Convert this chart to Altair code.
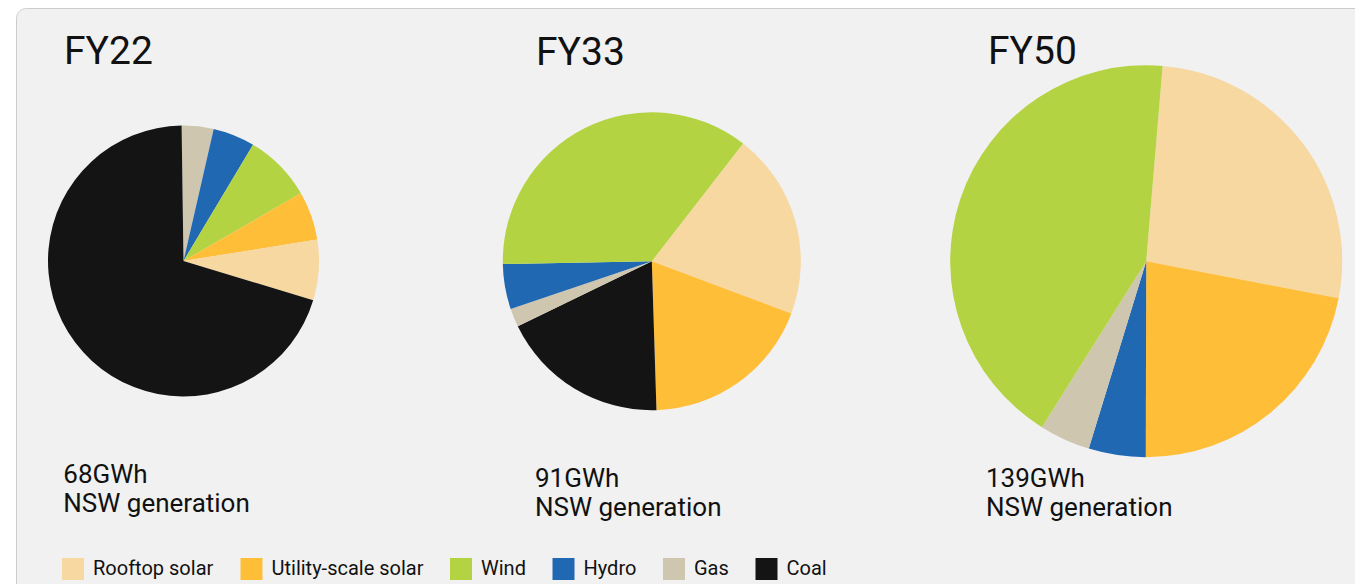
import math
import altair as alt
import pandas as pd

# ---- data ----
categories = ["Rooftop solar", "Utility-scale solar", "Wind", "Hydro", "Gas", "Coal"]
palette = ["#F7D8A0", "#FFBE38", "#B3D342", "#2068B2", "#CFC6AF", "#141414"]

years = ["FY22", "FY33", "FY50"]
totals = ["68GWh", "91GWh", "139GWh"]

# slices listed clockwise, share in % of generation
fy22_sources = ["Gas", "Hydro", "Wind", "Utility-scale solar", "Rooftop solar", "Coal"]
fy22_shares = [3.8, 5.0, 8.1, 5.8, 7.2, 70.1]

fy33_sources = ["Rooftop solar", "Utility-scale solar", "Coal", "Gas", "Hydro", "Wind"]
fy33_shares = [20.2, 18.8, 18.3, 2.0, 4.9, 35.8]

fy50_sources = ["Rooftop solar", "Utility-scale solar", "Hydro", "Gas", "Wind"]
fy50_shares = [26.7, 22.0, 4.7, 4.2, 42.4]

pies = [(fy22_sources, fy22_shares), (fy33_sources, fy33_shares), (fy50_sources, fy50_shares)]

# ---- layout (pixels, styles) ----
FONT = "Roboto"
pie_layout = [  # center x, center y, radius, start angle (deg)
    (175.5, 253.0, 135.5, -0.8),
    (643.8, 253.2, 149.0, 37.8),
    (1138.2, 253.2, 196.0, 4.8),
]
title_pos = [(56, 56), (528, 57), (980, 56.3)]
caption_pos = [(55.3, 475.3), (527, 479.3), (978, 479.3)]
caption_lh = 28.5

color_scale = alt.Scale(domain=categories, range=palette)
legend = alt.Legend(
    orient="none", legendX=54, legendY=550, direction="horizontal",
    title=None, symbolType="square", symbolSize=484, symbolStrokeWidth=0,
    labelFont=FONT, labelFontSize=20, labelColor="#111111", labelOffset=9,
    columnPadding=26.5, padding=0, labelLimit=400,
)

bg = alt.Chart(pd.DataFrame({"box": [1]})).mark_rect(
    fill="#F1F1F1", stroke="#CCCCCC", strokeWidth=1, cornerRadius=10
).encode(
    x=alt.value(8.5), x2=alt.value(1500), y=alt.value(0.5), y2=alt.value(800)
)

layers = [bg]
for i, ((srcs, shares), (cx, cy, r, start)) in enumerate(zip(pies, pie_layout)):
    df = pd.DataFrame({"source": srcs, "share": shares, "idx": list(range(len(srcs)))})
    a0 = math.radians(start)
    arc = alt.Chart(df).mark_arc(outerRadius=r, strokeWidth=0).encode(
        x=alt.value(cx), y=alt.value(cy),
        theta=alt.Theta("share:Q", stack="normalize",
                        scale=alt.Scale(domain=[0, 1], range=[a0, a0 + 2 * math.pi])),
        order=alt.Order("idx:Q", sort="ascending"),
        color=alt.Color("source:N", scale=color_scale, legend=legend if i == 0 else None),
    )
    layers.append(arc)

for i in range(3):
    tx, ty = title_pos[i]
    layers.append(
        alt.Chart(pd.DataFrame({"t": [years[i]]})).mark_text(
            align="left", baseline="alphabetic", font=FONT, fontSize=39, color="#111111"
        ).encode(text="t:N", x=alt.value(tx), y=alt.value(ty))
    )
    cx, cy = caption_pos[i]
    for j, line in enumerate([totals[i], "NSW generation"]):
        layers.append(
            alt.Chart(pd.DataFrame({"t": [line]})).mark_text(
                align="left", baseline="alphabetic", font=FONT, fontSize=26, color="#111111"
            ).encode(text="t:N", x=alt.value(cx), y=alt.value(cy + j * caption_lh))
        )

chart = alt.layer(*layers).resolve_scale(theta="independent").properties(
    width=1347, height=576, padding=0, background="white",
    autosize=alt.AutoSizeParams(type="none"),
).configure_view(strokeWidth=0)

chart.save("out.html", embed_options={"renderer": "svg", "actions": False})
